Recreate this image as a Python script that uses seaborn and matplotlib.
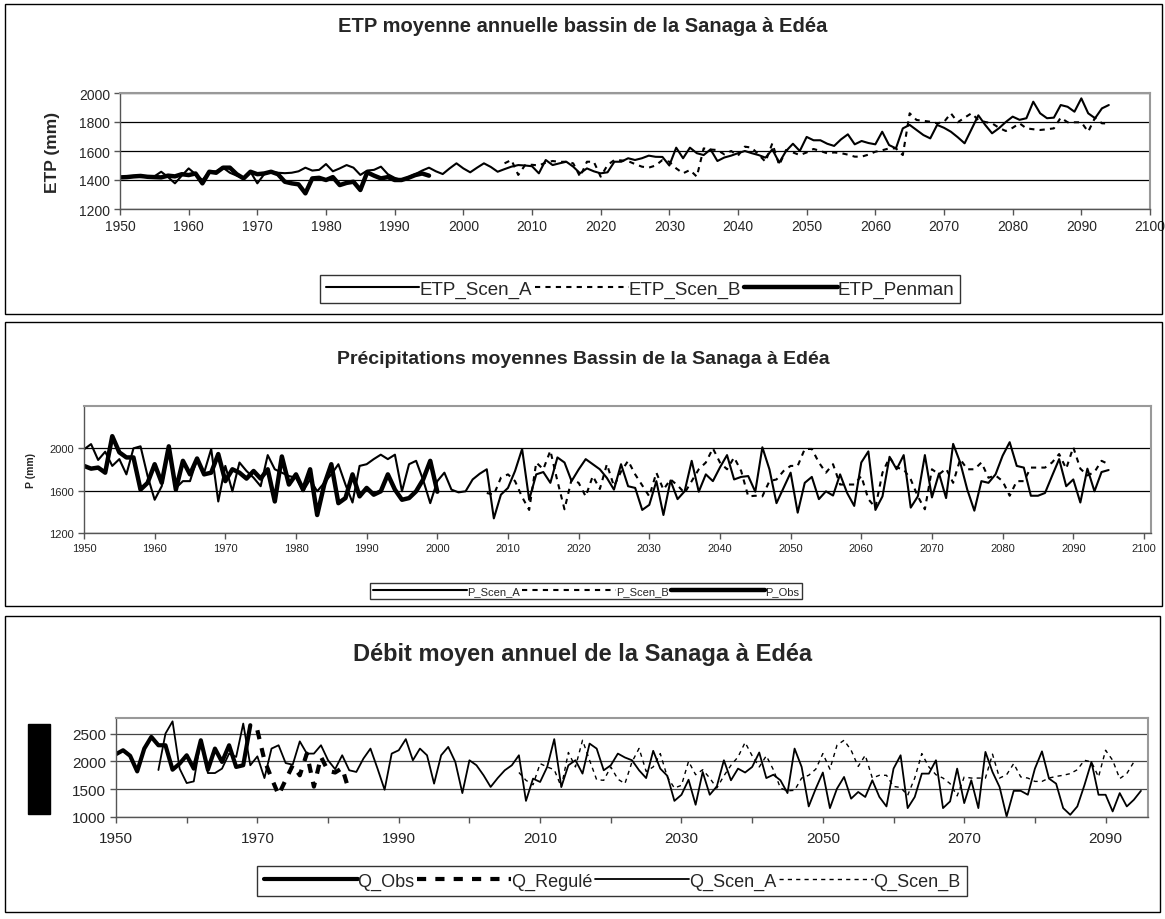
import numpy as np
import pandas as pd
import matplotlib
matplotlib.use("Agg")
import matplotlib.pyplot as plt
from matplotlib.patches import Rectangle
import seaborn as sns

# ---------------- data ----------------
etp_a_start = 1950
etp_scen_a = [1418, 1420, 1425, 1420, 1422, 1425, 1457, 1420, 1377, 1430,
              1480, 1440, 1400, 1457, 1460, 1485, 1450, 1430, 1410, 1457,
              1377, 1440, 1457, 1450, 1447, 1450, 1460, 1485, 1465, 1470,
              1510, 1460, 1480, 1503, 1485, 1435, 1465, 1470, 1492, 1440,
              1415, 1400, 1420, 1440, 1465, 1485, 1460, 1441, 1480, 1515,
              1480, 1453, 1485, 1515, 1490, 1457, 1475, 1492, 1503, 1500,
              1495, 1446, 1538, 1503, 1515, 1526, 1492, 1446, 1480, 1460,
              1446, 1453, 1526, 1526, 1550, 1538, 1550, 1568, 1560, 1559,
              1500, 1623, 1550, 1623, 1585, 1572, 1611, 1531, 1555, 1568,
              1585, 1600, 1585, 1572, 1554, 1611, 1520, 1600, 1650, 1600,
              1697, 1674, 1674, 1650, 1635, 1680, 1715, 1646, 1669, 1655,
              1646, 1733, 1641, 1618, 1756, 1780, 1745, 1710, 1687, 1780,
              1760, 1733, 1695, 1653, 1750, 1846, 1780, 1722, 1757, 1800,
              1837, 1815, 1826, 1940, 1860, 1826, 1830, 1917, 1905, 1871,
              1963, 1860, 1826, 1894, 1917]
etp_b_start = 2006
etp_scen_b = [1515, 1538, 1435, 1503, 1505, 1500, 1520, 1531, 1525, 1526,
              1515, 1423, 1526, 1526, 1423, 1503, 1538, 1535, 1530, 1510,
              1492, 1485, 1500, 1538, 1526, 1480, 1446, 1469, 1423, 1618,
              1610, 1607, 1577, 1600, 1568, 1630, 1623, 1575, 1526, 1653,
              1503, 1607, 1590, 1572, 1590, 1614, 1600, 1584, 1590, 1585,
              1575, 1561, 1561, 1575, 1595, 1605, 1618, 1618, 1572, 1860,
              1814, 1808, 1802, 1791, 1800, 1860, 1798, 1830, 1860, 1814,
              1800, 1791, 1760, 1738, 1760, 1791, 1756, 1750, 1745, 1750,
              1756, 1830, 1798, 1798, 1798, 1733, 1830, 1791, 1790]
penman_start = 1950
etp_penman = [1418, 1420, 1425, 1428, 1422, 1420, 1418, 1430, 1425, 1440,
              1434, 1445, 1377, 1457, 1450, 1485, 1485, 1440, 1411, 1457,
              1440, 1445, 1457, 1440, 1388, 1377, 1370, 1308, 1411, 1415,
              1400, 1420, 1365, 1380, 1388, 1331, 1453, 1430, 1411, 1420,
              1400, 1400, 1415, 1434, 1445, 1430]

p_a_start = 1950
p_scen_a = [1990, 2040, 1890, 1968, 1834, 1898, 1754, 2000, 2019, 1738,
            1514, 1642, 2010, 1626, 1690, 1690, 1898, 1770, 1994, 1498,
            1834, 1594, 1866, 1786, 1722, 1642, 1936, 1802, 1770, 1738,
            1722, 1594, 1706, 1594, 1674, 1754, 1850, 1658, 1488, 1834,
            1850, 1898, 1940, 1898, 1940, 1594, 1850, 1882, 1700, 1482,
            1690, 1770, 1610, 1584, 1594, 1706, 1760, 1802, 1338, 1562,
            1626, 1786, 1994, 1514, 1754, 1776, 1674, 1914, 1866, 1690,
            1800, 1898, 1850, 1802, 1720, 1610, 1850, 1642, 1626, 1418,
            1466, 1690, 1370, 1696, 1520, 1594, 1882, 1590, 1754, 1690,
            1820, 1936, 1706, 1730, 1738, 1590, 2010, 1802, 1482, 1626,
            1770, 1392, 1674, 1730, 1520, 1594, 1554, 1754, 1578, 1456,
            1866, 1971, 1418, 1546, 1920, 1802, 1936, 1440, 1546, 1936,
            1536, 1763, 1530, 2042, 1866, 1610, 1411, 1690, 1674, 1754,
            1930, 2058, 1834, 1818, 1552, 1552, 1578, 1740, 1898, 1642,
            1706, 1488, 1808, 1594, 1776, 1795]
p_b_start = 2007
p_scen_b = [1578, 1562, 1722, 1754, 1690, 1540, 1418, 1866, 1802, 1978,
            1690, 1424, 1706, 1674, 1546, 1738, 1616, 1850, 1642, 1780,
            1882, 1754, 1650, 1546, 1770, 1610, 1706, 1650, 1578, 1690,
            1802, 1866, 2000, 1866, 1802, 1914, 1786, 1546, 1552, 1546,
            1690, 1706, 1786, 1834, 1834, 1994, 1994, 1866, 1770, 1850,
            1658, 1658, 1658, 1738, 1520, 1440, 1770, 1914, 1818, 1802,
            1706, 1546, 1424, 1802, 1754, 1808, 1674, 1898, 1802, 1802,
            1866, 1722, 1744, 1690, 1552, 1690, 1690, 1818, 1818, 1818,
            1866, 1946, 1808, 2010, 1808, 1744, 1776, 1882, 1850]
p_obs_start = 1950
p_obs = [1834, 1808, 1818, 1770, 2115, 1962, 1914, 1914, 1610, 1674,
         1850, 1674, 2019, 1610, 1882, 1754, 1904, 1754, 1770, 1946,
         1690, 1802, 1770, 1714, 1786, 1714, 1802, 1498, 1923, 1658,
         1754, 1610, 1802, 1370, 1658, 1850, 1482, 1530, 1754, 1546,
         1626, 1562, 1594, 1754, 1610, 1514, 1530, 1594, 1706, 1882,
         1590]

q_obs_start = 1950
q_obs = [2130, 2200, 2100, 1820, 2230, 2440, 2290, 2290, 1850, 1960,
         2110, 1870, 2380, 1850, 2230, 1990, 2290, 1900, 1930, 2650]
q_reg_start = 1970
q_regule = [2560, 2020, 1700, 1397, 1666, 1930, 1750, 2140, 1546, 2080,
            1830, 1800, 1880, 1460]
q_a_start = 1956
q_scen_a = [1845, 2500, 2720, 1870, 1610, 1640, 2380, 1790, 1790, 1870,
            2140, 2080, 2680, 1930, 2090, 1700, 2230, 2290, 1970, 1940,
            2360, 2140, 2140, 2290, 2020, 1860, 2110, 1840, 1810, 2050,
            2230, 1870, 1490, 2140, 2200, 2400, 2020, 2230, 2110, 1600,
            2110, 2260, 1990, 1430, 2020, 1930, 1750, 1540, 1700, 1840,
            1930, 2110, 1290, 1690, 1630, 1900, 2400, 1540, 1930, 2020,
            1780, 2320, 2230, 1840, 1930, 2140, 2070, 2020, 1840, 1700,
            2190, 1870, 1740, 1290, 1400, 1670, 1220, 1810, 1400, 1550,
            2020, 1660, 1870, 1800, 1900, 2160, 1700, 1760, 1660, 1430,
            2230, 1900, 1190, 1510, 1800, 1160, 1510, 1720, 1330, 1450,
            1360, 1660, 1360, 1190, 1870, 2110, 1160, 1360, 1780, 1780,
            2020, 1160, 1280, 1870, 1250, 1660, 1160, 2170, 1810, 1540,
            1010, 1470, 1470, 1400, 1870, 2180, 1690, 1600, 1160, 1040,
            1190, 1570, 1990, 1400, 1400, 1100, 1430, 1190, 1310, 1470]
q_b_start = 2007
q_scen_b = [1800, 1660, 1580, 1960, 1900, 1850, 1540, 2160, 1900, 2380,
            2020, 1670, 1660, 1900, 1680, 1600, 1990, 2233, 1820, 1900,
            2140, 1720, 1520, 1570, 2000, 1760, 1850, 1700, 1520, 1740,
            1930, 2080, 2340, 2100, 1900, 2100, 1850, 1520, 1470, 1480,
            1700, 1750, 1860, 2140, 1860, 2290, 2380, 2200, 1910, 2110,
            1700, 1750, 1750, 1550, 1530, 1390, 1700, 2140, 1900, 1760,
            1700, 1600, 1380, 1720, 1700, 1700, 1700, 2130, 1700, 1760,
            1960, 1720, 1700, 1640, 1640, 1700, 1730, 1750, 1780, 1850,
            2020, 1990, 1720, 2200, 2020, 1690, 1780, 1990]


def series(start, values):
    return pd.DataFrame({"year": np.arange(start, start + len(values)), "val": values})


# ---------------- figure ----------------
sns.set_style("white")
plt.rcParams["font.family"] = ["Liberation Sans", "DejaVu Sans"]

W, H = 1165, 920
fig = plt.figure(figsize=(W / 100, H / 100), dpi=100)


def px_axes(x0, y0, x1, y1):
    return fig.add_axes([x0 / W, 1 - y1 / H, (x1 - x0) / W, (y1 - y0) / H])


def box(x0, y0, x1, y1):
    fig.patches.append(Rectangle((x0 / W, 1 - y1 / H), (x1 - x0) / W, (y1 - y0) / H,
                                 transform=fig.transFigure, fill=False,
                                 edgecolor="black", linewidth=1.0))


def style_axes(ax, fs):
    for s in ["top", "right"]:
        ax.spines[s].set_color("#999999")
        ax.spines[s].set_linewidth(1.5)
    for s in ["left", "bottom"]:
        ax.spines[s].set_color("#555555")
        ax.spines[s].set_linewidth(1.0)
    ax.tick_params(axis="both", direction="out", length=4, width=1,
                   color="#555555", labelsize=fs, pad=3,
                   bottom=True, left=True)
    ax.yaxis.grid(True, color="black", linewidth=0.9)
    ax.xaxis.grid(False)
    ax.set_xlabel("")
    ax.set_ylabel("")


def legend(handles, labels, cx, cy, ncol, fs, hl, pad=0.3):
    lg = fig.legend(handles, labels, loc="center", bbox_to_anchor=(cx / W, 1 - cy / H),
                    ncol=ncol, frameon=True, fancybox=False, edgecolor="black",
                    fontsize=fs, handlelength=hl, handletextpad=0.0,
                    columnspacing=0.15, borderpad=pad, borderaxespad=0)
    lg.get_frame().set_linewidth(1.0)
    return lg


box(5, 5, 1162, 315)
box(5, 323, 1162, 607)
box(5, 617, 1160, 913)

# ---- panel 1 : ETP ----
ax1 = px_axes(120, 94, 1150, 210)
sns.lineplot(data=series(etp_a_start, etp_scen_a), x="year", y="val", ax=ax1,
             color="black", linewidth=1.5, label="ETP_Scen_A")
sns.lineplot(data=series(etp_b_start, etp_scen_b), x="year", y="val", ax=ax1,
             color="black", linewidth=1.5, linestyle=(0, (2.5, 2.5)), label="ETP_Scen_B")
sns.lineplot(data=series(penman_start, etp_penman), x="year", y="val", ax=ax1,
             color="black", linewidth=3.2, label="ETP_Penman")
ax1.set_xlim(1950, 2100)
ax1.set_ylim(1200, 2000)
ax1.set_xticks(range(1950, 2101, 10))
ax1.set_yticks(range(1200, 2001, 200))
style_axes(ax1, 10)
h, l = ax1.get_legend_handles_labels()
ax1.get_legend().remove()
legend(h, l, 640, 290, 3, 13.5, 5.0)
fig.text(583 / W, 1 - 27 / H, "ETP moyenne annuelle bassin de la Sanaga à Edéa",
         ha="center", va="center", fontsize=14.5, fontweight="bold")
fig.text(52 / W, 1 - 152 / H, "ETP (mm)", ha="center", va="center",
         rotation=90, fontsize=12.5, fontweight="bold")

# ---- panel 2 : precipitation ----
ax2 = px_axes(84, 407, 1151, 534)
sns.lineplot(data=series(p_a_start, p_scen_a), x="year", y="val", ax=ax2,
             color="black", linewidth=1.5, label="P_Scen_A")
sns.lineplot(data=series(p_b_start, p_scen_b), x="year", y="val", ax=ax2,
             color="black", linewidth=1.5, linestyle=(0, (2.5, 2.5)), label="P_Scen_B")
sns.lineplot(data=series(p_obs_start, p_obs), x="year", y="val", ax=ax2,
             color="black", linewidth=3.2, label="P_Obs")
ax2.set_xlim(1950, 2101)
ax2.set_ylim(1200, 2400)
ax2.set_xticks(range(1950, 2101, 10))
ax2.set_yticks([1200, 1600, 2000])
style_axes(ax2, 8)
h, l = ax2.get_legend_handles_labels()
ax2.get_legend().remove()
legend(h, l, 586, 592, 3, 8, 8.5)
fig.text(583 / W, 1 - 359 / H, "Précipitations moyennes Bassin de la Sanaga à Edéa",
         ha="center", va="center", fontsize=14, fontweight="bold")
fig.text(31 / W, 1 - 470 / H, "P (mm)", ha="center", va="center",
         rotation=90, fontsize=7.5, fontweight="bold")

# ---- panel 3 : discharge ----
ax3 = px_axes(116, 719, 1148, 818)
sns.lineplot(data=series(q_obs_start, q_obs), x="year", y="val", ax=ax3,
             color="black", linewidth=3.0, label="Q_Obs")
sns.lineplot(data=series(q_reg_start, q_regule), x="year", y="val", ax=ax3,
             color="black", linewidth=3.0, linestyle=(0, (2.2, 2.2)), label="Q_Regulé")
sns.lineplot(data=series(q_a_start, q_scen_a), x="year", y="val", ax=ax3,
             color="black", linewidth=1.3, label="Q_Scen_A")
sns.lineplot(data=series(q_b_start, q_scen_b), x="year", y="val", ax=ax3,
             color="black", linewidth=1.0, linestyle=(0, (3, 3)), label="Q_Scen_B")
ax3.set_xlim(1950, 2096)
ax3.set_ylim(1000, 2780)
ax3.set_xticks(range(1950, 2091, 10))
ax3.set_xticklabels([str(y) if (y - 1950) % 20 == 0 else "" for y in range(1950, 2091, 10)])
ax3.set_yticks([1000, 1500, 2000, 2500])
style_axes(ax3, 11)
ax3.yaxis.grid(True, color="#444444", linewidth=0.9)
ax3.tick_params(axis="x", pad=6)
h, l = ax3.get_legend_handles_labels()
ax3.get_legend().remove()
legend(h, l, 612, 882, 4, 13, 5.2, pad=0.35)
fig.text(583 / W, 1 - 654 / H, "Débit moyen annuel de la Sanaga à Edéa",
         ha="center", va="center", fontsize=17, fontweight="bold")
# the y-axis label of this panel is rendered as a solid black block in the source
fig.patches.append(Rectangle((28 / W, 1 - 815 / H), 22 / W, 90 / H,
                             transform=fig.transFigure, color="black"))

fig.savefig("out.png", dpi=100)
